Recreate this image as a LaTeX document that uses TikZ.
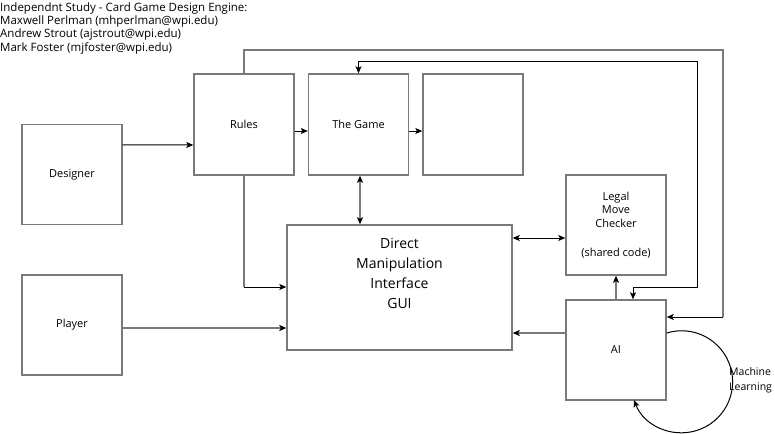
\documentclass[tikz,border=0pt]{standalone}
\usepackage{fontspec}
\setmainfont{Open Sans}
\usetikzlibrary{arrows.meta,calc}
\definecolor{boxgray}{HTML}{7A7A7A}
\tikzset{
  box/.style={draw=boxgray, line width=1.4pt, fill=white, minimum width=100pt, minimum height=100pt, inner sep=0pt, font=\fontsize{11}{13}\selectfont, align=center},
  tip/.style={-{Stealth[length=7pt,width=6pt,inset=1.5pt,color=black]}},
  tips/.style={{Stealth[length=7pt,width=6pt,inset=1.5pt,color=black]}-{Stealth[length=7pt,width=6pt,inset=1.5pt,color=black]}},
  blk/.style={draw=black, line width=1pt},
  gry/.style={draw=boxgray, line width=1.4pt},
}
\begin{document}
\begin{tikzpicture}[x=1pt,y=-1pt]
\useasboundingbox (0,0) rectangle (775,433);
\node[anchor=north west, align=left, inner sep=0pt, font=\fontsize{11.5}{13.2}\selectfont] (title) at (0,2.5)
  {Independnt Study - Card Game Design Engine:\\Maxwell Perlman (mhperlman@wpi.edu)\\Andrew Strout (ajstrout@wpi.edu)\\Mark Foster (mjfoster@wpi.edu)};

\node[box] (designer) at (72,174.5) {Designer};
\node[box, minimum height=101pt] (rules) at (244,124.5) {Rules};
\node[box, minimum height=101pt] (game) at (358.5,124.5) {The Game};
\node[box, minimum height=101pt] (empty) at (473,124.5) {};
\node[box] (player) at (72,325) {Player};
\node[box, minimum width=225pt, minimum height=125pt] (gui) at (399.5,287.5) {};
\node[font=\fontsize{14}{20}\selectfont, align=center, anchor=north] (guitext) at (399.5,235) {Direct\\Manipulation\\Interface\\GUI};
\node[box, font=\fontsize{11}{13.5}\selectfont] (legal) at (616,225) {Legal\\Move\\Checker\\[2pt]\\(shared code)};
\node[box] (ai) at (616,350) {AI};
\node[anchor=west, align=left, inner sep=0pt, font=\fontsize{10.5}{15}\selectfont] (ml) at (729,380) {Machine\\Learning};

\coordinate (outerTR) at (723,50);
\coordinate (innerTR) at (697,62);
\coordinate (innerBL) at (633,287);

% Designer -> Rules
\draw[blk, tip] ($(designer.north east)+(0,21)$) -- (rules.west |- 0,145);
% Rules -> Game, Game -> empty
\draw[blk, tip] (rules.east |- 0,131) -- (game.west |- 0,131);
\draw[blk, tip] (game.east |- 0,131) -- (empty.west |- 0,131);
% Rules top -> AI right
\draw[gry] (rules.north) |- (outerTR) -- (723,317);
\draw[blk, tip] (723,317) -- (ai.east |- 0,317);
% Rules bottom -> GUI
\draw[gry] (rules.south) -- (244,287);
\draw[blk, tip] (244,287) -- (gui.west |- 0,287);
% Player -> GUI
\draw[gry, tip] ($(player.east)+(0,3)$) -- (gui.west |- 0,328);
% Game <-> GUI
\draw[gry, tips] (game.south -| 360,0) -- (gui.north -| 360,0);
% GUI <-> Legal
\draw[blk, tips] (gui.east |- 0,238) -- (legal.west |- 0,238);
% AI -> Legal
\draw[gry, tip] (ai.north) -- (legal.south);
% Game <-> AI (inner loop)
\draw[blk, tips] (game.north) |- (innerTR) |- (innerBL) -- (ai.north -| innerBL);
% AI -> GUI
\draw[gry, tip] (ai.west |- 0,333) -- (gui.east |- 0,333);
% Machine learning loop
\draw[blk, tip] (ai.east |- 0,333) arc[start angle=-107, end angle=159, radius=51];
\end{tikzpicture}
\end{document}
